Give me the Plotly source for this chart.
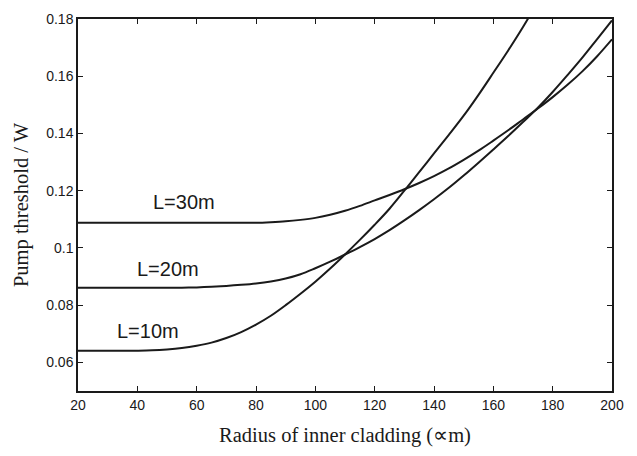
import plotly.graph_objects as go

radius = [20, 25, 30, 35, 40, 45, 50, 55, 60, 65, 70, 75, 80, 85, 90, 95, 100,
          105, 110, 115, 120, 125, 130, 135, 140, 145, 150, 155, 160, 165, 170,
          175, 180, 185, 190, 195, 200]

p_L10 = [0.0641, 0.0641, 0.0641, 0.0641, 0.0641, 0.0642, 0.0645, 0.0650, 0.0658,
         0.0669, 0.0685, 0.0706, 0.0732, 0.0763, 0.0800, 0.0840, 0.0882, 0.0928,
         0.0977, 0.1028, 0.1081, 0.1137, 0.1200, 0.1265, 0.1330, 0.1395, 0.1462,
         0.1535, 0.1612, 0.1690, 0.1772, 0.1860, None, None, None, None, None]

p_L20 = [0.0861, 0.0861, 0.0861, 0.0861, 0.0861, 0.0861, 0.0861, 0.0861, 0.0862,
         0.0864, 0.0867, 0.0871, 0.0876, 0.0883, 0.0893, 0.0908, 0.0929, 0.0952,
         0.0977, 0.1003, 0.1031, 0.1062, 0.1096, 0.1132, 0.1170, 0.1210, 0.1253,
         0.1298, 0.1344, 0.1391, 0.1440, 0.1490, 0.1545, 0.1604, 0.1665, 0.1730,
         0.1795]

p_L30 = [0.1088, 0.1088, 0.1088, 0.1088, 0.1088, 0.1088, 0.1088, 0.1088, 0.1088,
         0.1088, 0.1088, 0.1088, 0.1088, 0.1090, 0.1093, 0.1098, 0.1105, 0.1116,
         0.1130, 0.1147, 0.1166, 0.1185, 0.1205, 0.1227, 0.1251, 0.1278, 0.1308,
         0.1340, 0.1375, 0.1411, 0.1449, 0.1487, 0.1527, 0.1570, 0.1617, 0.1670,
         0.1729]

labels = ["L=10m", "L=20m", "L=30m"]
label_x = [43.6, 50.5, 55.7]
label_y = [0.0708, 0.0928, 0.1159]

x_ticks = [20, 40, 60, 80, 100, 120, 140, 160, 180, 200]
y_ticks = [0.06, 0.08, 0.1, 0.12, 0.14, 0.16, 0.18]
y_tick_text = ["0.06", "0.08", "0.1", "0.12", "0.14", "0.16", "0.18"]

fig = go.Figure()
for ys in (p_L10, p_L20, p_L30):
    fig.add_trace(go.Scatter(x=radius, y=ys, mode="lines",
                             line=dict(color="#1a1a1a", width=2),
                             line_shape="spline", showlegend=False,
                             connectgaps=False))

for t, lx, ly in zip(labels, label_x, label_y):
    fig.add_annotation(x=lx, y=ly, text=t, showarrow=False,
                       font=dict(family="Liberation Sans, Arial", size=20, color="#1a1a1a"))

axis_common = dict(showline=True, linecolor="#1a1a1a", linewidth=1.5,
                   mirror="ticks", ticks="inside", ticklen=5, tickwidth=1,
                   tickcolor="#1a1a1a", showgrid=False, zeroline=False,
                   tickfont=dict(family="Liberation Sans, Arial", size=14, color="#1a1a1a"))

fig.update_xaxes(range=[20, 200], tickvals=x_ticks,
                 title=dict(text="Radius of inner cladding (∝m)", standoff=16,
                            font=dict(family="Liberation Serif, Times New Roman", size=20.5, color="#1a1a1a")),
                 **axis_common)
fig.update_yaxes(range=[0.05, 0.18], tickvals=y_ticks, ticktext=y_tick_text,
                 title=dict(text="Pump threshold / W", standoff=12,
                            font=dict(family="Liberation Serif, Times New Roman", size=20.5, color="#1a1a1a")),
                 **axis_common)

fig.update_layout(width=637, height=456, margin=dict(l=78, r=25, t=11, b=65),
                  plot_bgcolor="white", paper_bgcolor="white")

fig.write_html("out.html")
